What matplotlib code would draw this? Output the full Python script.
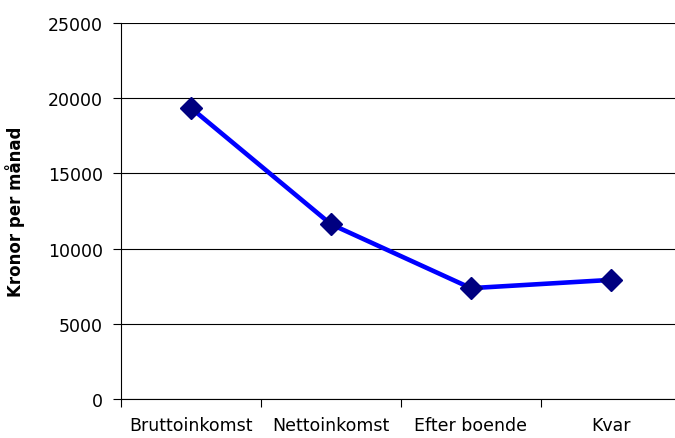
import matplotlib
matplotlib.use("Agg")
from matplotlib import pyplot as plt

categories = ["Bruttoinkomst", "Nettoinkomst", "Efter boende", "Kvar"]
values = [19350, 11620, 7370, 7920]
y_ticks = [0, 5000, 10000, 15000, 20000, 25000]

plt.rcParams["font.family"] = ["DejaVu Sans"]

fig = plt.figure(figsize=(6.75, 4.39), dpi=100)
ax = fig.add_axes([121 / 675, 39 / 439, 560 / 675, 376 / 439])

x = list(range(len(categories)))
ax.plot(x, values, color="#0000FF", linewidth=3.3, marker="D", markersize=11.5,
        markerfacecolor="#000080", markeredgecolor="#000080", zorder=3)

ax.set_xlim(-0.5, len(categories) - 0.5)
ax.set_ylim(0, 25000)
ax.set_yticks(y_ticks)
ax.set_xticks(x)
ax.set_xticklabels(categories)
ax.set_xticks([i - 0.5 for i in range(len(categories) + 1)], minor=True)
ax.tick_params(axis="x", which="major", length=0, pad=12, labelsize=12.5)
ax.tick_params(axis="x", which="minor", length=6, width=0.8, direction="out")
ax.tick_params(axis="y", length=6, width=0.8, labelsize=12.5, pad=7)

ax.grid(axis="y", color="black", linewidth=0.8)
ax.set_axisbelow(True)
for s in ["top", "right"]:
    ax.spines[s].set_visible(False)
ax.spines["left"].set_linewidth(0.8)
ax.spines["bottom"].set_linewidth(0.8)

ax.set_ylabel("Kronor per månad", fontsize=12, fontweight="bold")
ax.yaxis.set_label_coords(-96 / 560, 0.5)

fig.savefig("out.png", dpi=100)
